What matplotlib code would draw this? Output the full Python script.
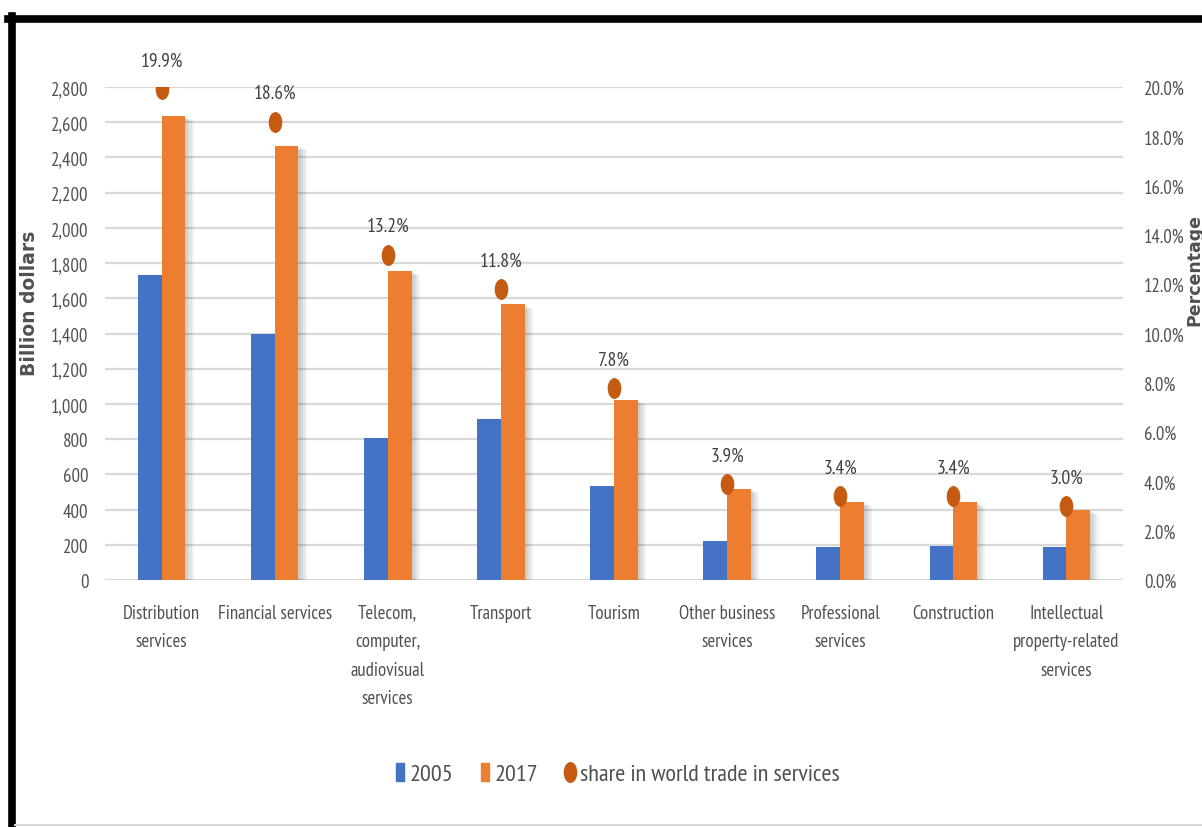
import numpy as np
import matplotlib
matplotlib.use('Agg')
import matplotlib.pyplot as plt
import matplotlib.patheffects as pe
from matplotlib.path import Path
from matplotlib.lines import Line2D

# === DADOS === #
categorias = ['Distribution\nservices', 'Financial services',
              'Telecom,\ncomputer,\naudiovisual\nservices', 'Transport', 'Tourism',
              'Other business\nservices', 'Professional\nservices', 'Construction',
              'Intellectual\nproperty-related\nservices']
valores_2005 = [1735, 1395, 805, 915, 535, 220, 190, 195, 190]
valores_2017 = [2635, 2465, 1755, 1565, 1025, 515, 445, 445, 400]
participacao = [19.9, 18.6, 13.2, 11.8, 7.8, 3.9, 3.4, 3.4, 3.0]

ticks_esq = np.arange(0, 2801, 200)
ticks_dir = np.arange(0, 20.1, 2)

plt.rcParams['font.family'] = ['PT Sans Narrow', 'DejaVu Sans']

cinza = '#505050'
azul = '#4472C4'
laranja = '#ED7D31'
marrom = '#C55A11'

fig = plt.figure(figsize=(12.02, 8.28), dpi=100)
ax = fig.add_axes([105 / 1202, 1 - 581 / 828, 1018 / 1202, 493 / 828])

# sombra suave das barras
sombra = [pe.SimplePatchShadow(offset=(d, -d / 2), shadow_rgbFace='black', alpha=0.05)
          for d in (1.5, 3, 4.5, 6)] + [pe.Normal()]

x = np.arange(len(categorias))
w = 0.21
ax.bar(x - w / 2, valores_2005, w, color=azul, label='2005', zorder=3, path_effects=sombra)
ax.bar(x + w / 2, valores_2017, w, color=laranja, label='2017', zorder=3, path_effects=sombra)

ax.set_xlim(-0.5, len(categorias) - 0.5)
ax.set_ylim(0, 2800)
ax.set_yticks(ticks_esq)
ax.set_yticklabels([f'{v:,}' for v in ticks_esq])
ax.grid(axis='y', color='#d9d9d9', linewidth=1.6, zorder=0)
ax.set_xticks(x)
ax.set_xticklabels(categorias, linespacing=1.75, va='top')
ax.tick_params(axis='x', length=0, pad=17, labelsize=13.5, labelcolor=cinza)
ax.tick_params(axis='y', length=0, pad=12, labelsize=13.5, labelcolor=cinza)
for s in ax.spines.values():
    s.set_visible(False)

# eixo secundário (percentual)
ax2 = ax.twinx()
ax2.set_ylim(0, 20)
ax2.set_yticks(ticks_dir)
ax2.set_yticklabels([f'{v:.1f}%' for v in ticks_dir])
ax2.tick_params(axis='y', length=0, pad=15, labelsize=13.5, labelcolor=cinza)
for s in ax2.spines.values():
    s.set_visible(False)

# marcador elíptico
circ = Path.unit_circle()
elipse = Path(circ.vertices * [0.63, 1.0], circ.codes)
ax2.plot(x, participacao, linestyle='none', marker=elipse, markersize=14,
         color=marrom, label='share in world trade in services', zorder=4)
for xi, p in zip(x, participacao):
    ax2.annotate(f'{p:.1f}%', (xi, p), xytext=(0, 14), textcoords='offset points',
                 ha='center', va='bottom', fontsize=14, color='#404040')

fig.text(30 / 1202, 1 - 303 / 828, 'Billion dollars', rotation=90, ha='center',
         va='center', fontsize=13.5, fontweight='bold', color=cinza, family='DejaVu Sans')
fig.text(1194 / 1202, 1 - 270 / 828, 'Percentage', rotation=90, ha='center',
         va='center', fontsize=12.5, fontweight='bold', color=cinza, family='DejaVu Sans')

# legenda (marcadores estreitos)
retangulo = Path([(-0.45, -1), (0.45, -1), (0.45, 1), (-0.45, 1), (-0.45, -1)],
                 [Path.MOVETO, Path.LINETO, Path.LINETO, Path.LINETO, Path.CLOSEPOLY])
handles = [Line2D([], [], linestyle='none', marker=retangulo, markersize=13, color=azul),
           Line2D([], [], linestyle='none', marker=retangulo, markersize=13, color=laranja),
           Line2D([], [], linestyle='none', marker=elipse, markersize=14, color=marrom)]
fig.legend(handles, ['2005', '2017', 'share in world trade in services'],
           loc='center', bbox_to_anchor=(616 / 1202, 1 - 775 / 828), ncol=3,
           frameon=False, fontsize=17.5, labelcolor=cinza, handletextpad=0.1,
           columnspacing=1.0, handlelength=0.6)

# moldura
fig.add_artist(Line2D([11.5 / 1202, 11.5 / 1202], [0, 1 - 17 / 828], color='black',
                      linewidth=5.5, transform=fig.transFigure))
fig.add_artist(Line2D([8 / 1202, 1], [1 - 20 / 828, 1 - 20 / 828], color='black',
                      linewidth=5.5, transform=fig.transFigure))
fig.add_artist(Line2D([15 / 1202, 1], [2 / 828, 2 / 828], color='#d9d9d9',
                      linewidth=1.5, transform=fig.transFigure))

fig.savefig('out.png', dpi=100)
